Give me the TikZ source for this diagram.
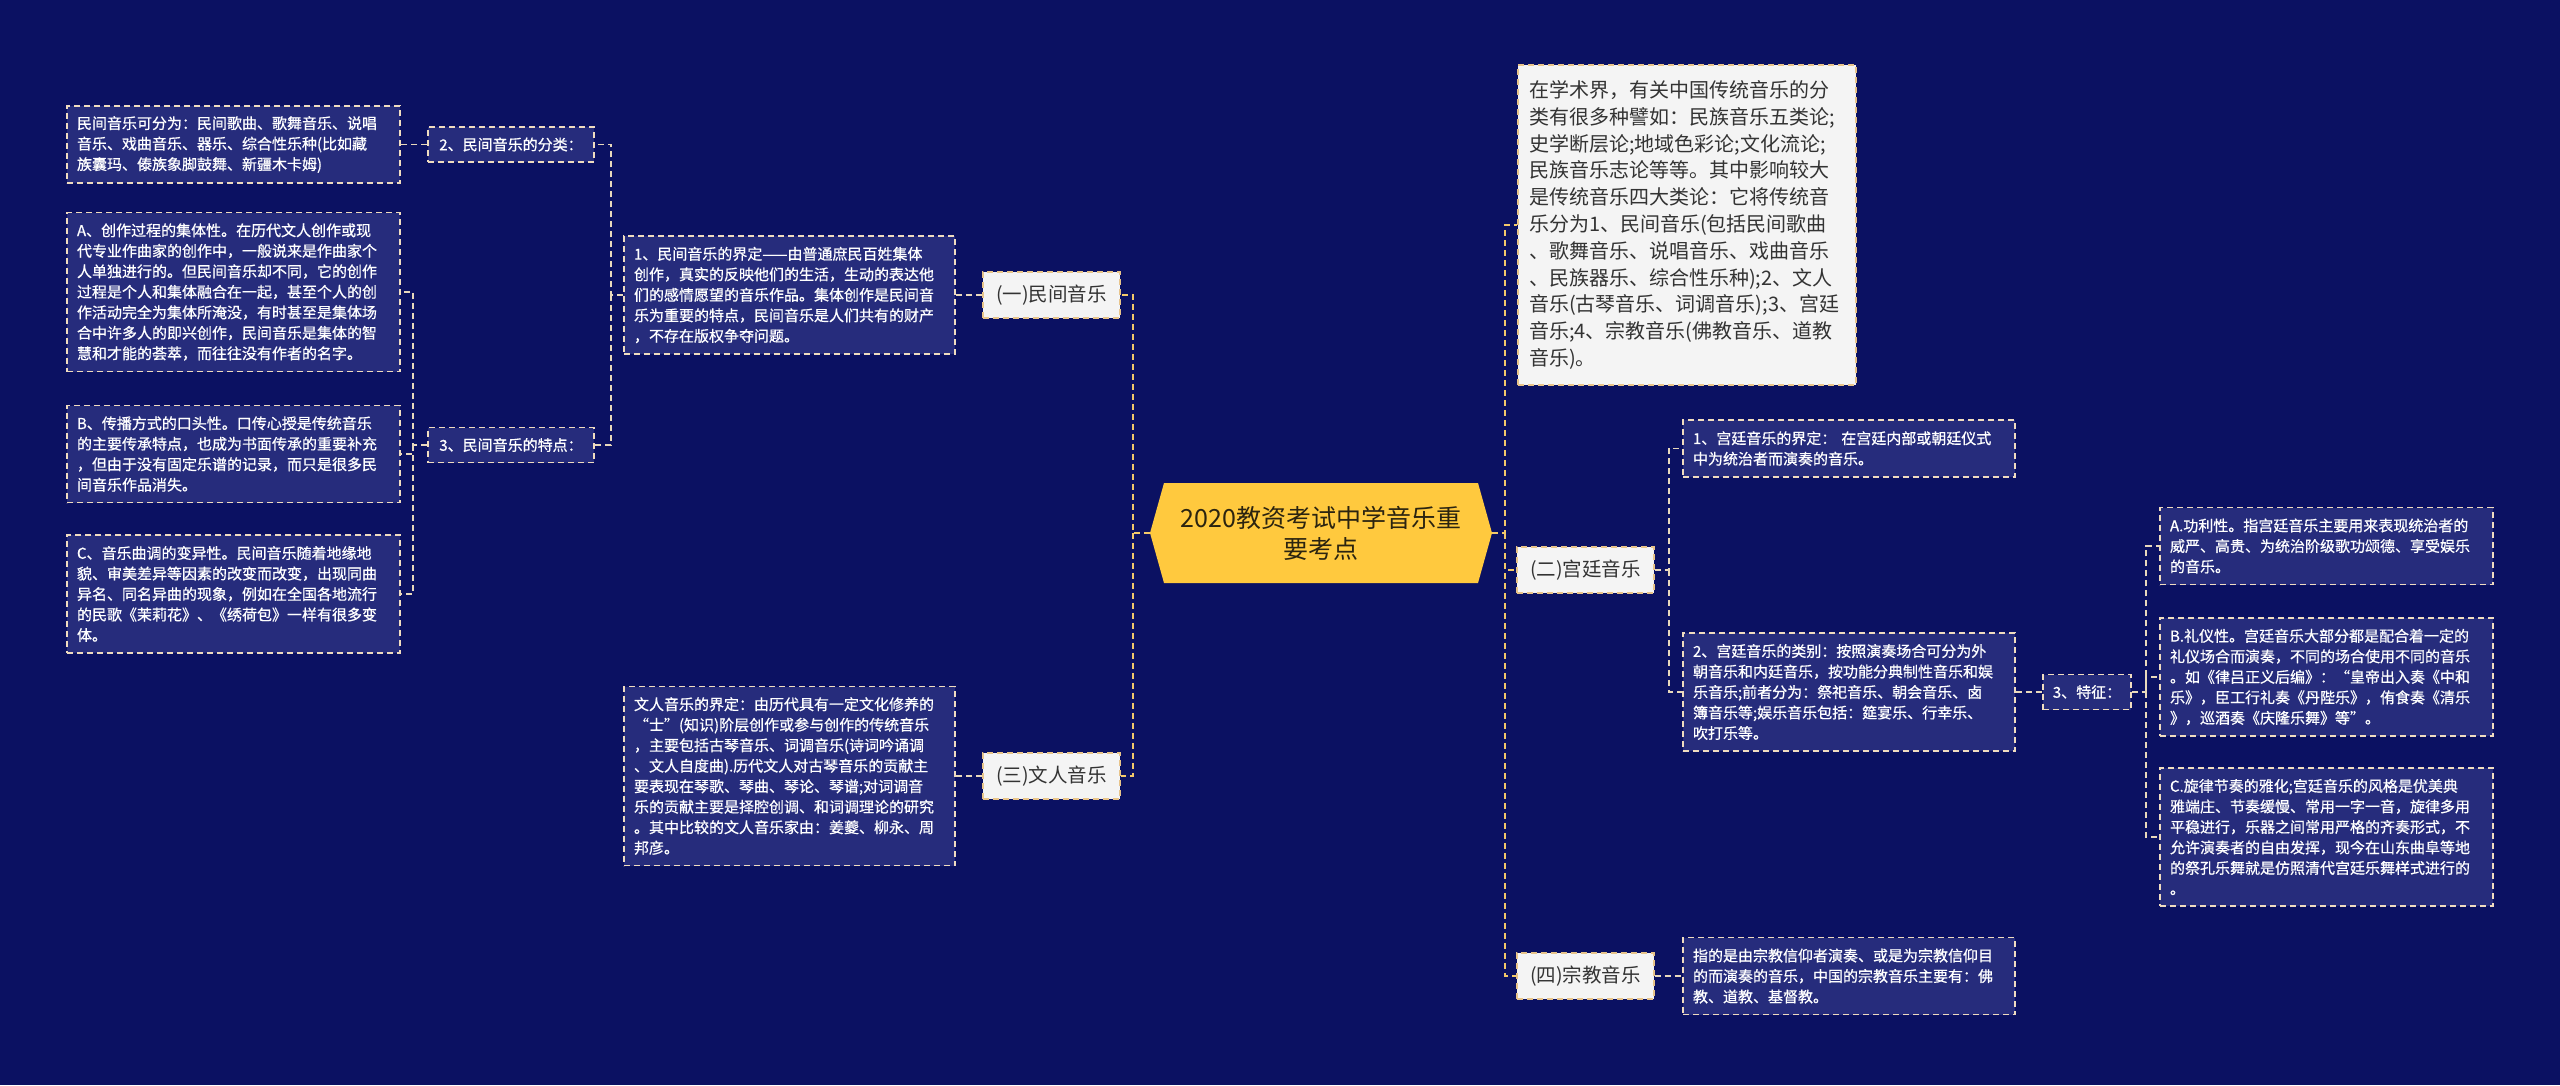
\documentclass[tikz,border=0pt]{standalone}
\usepackage{fontspec}
\newfontfamily\cjk{Noto Sans CJK SC}
\newfontfamily\cjkm{Noto Sans CJK SC}[FakeBold=0.7]
\definecolor{bg}{HTML}{0B1162}
\definecolor{boxfill}{HTML}{262C7C}
\definecolor{boxline}{HTML}{F0DCC0}
\definecolor{wirec}{HTML}{E8D8BC}
\definecolor{mainwirec}{HTML}{F3C96A}
\definecolor{lvlfill}{HTML}{F4F4F4}
\definecolor{lvlline}{HTML}{E8C48A}
\definecolor{rootfill}{HTML}{FFC93E}
\definecolor{roottext}{HTML}{2B2410}
\definecolor{darktext}{HTML}{333333}
\begin{document}
\begin{tikzpicture}[x=1pt,y=-1pt,
  dashy/.style={dash pattern=on 6pt off 4pt,line width=1.3pt},
  tbox/.style={draw=boxline,dashy,fill=boxfill,text=white,align=left,
     font=\cjkm\fontsize{15}{20.5}\selectfont,inner xsep=10pt,inner ysep=0pt,text width=313pt},
  sbox/.style={draw=boxline,dashy,fill=boxfill,text=white,font=\cjkm\fontsize{15}{18}\selectfont,
     minimum height=35pt,inner xsep=0pt},
  lvl/.style={draw=lvlline,dashy,fill=lvlfill,text=darktext,font=\cjk\fontsize{19.5}{23}\selectfont,
     minimum width=137pt,minimum height=46pt,inner sep=0pt},
  note/.style={draw=lvlline,dashy,fill=lvlfill,text=darktext,align=left,
     font=\cjk\fontsize{20}{26.8}\selectfont,inner xsep=11pt,inner ysep=0pt,text width=316pt,minimum height=320pt},
  wire/.style={draw=wirec,dashy},
  mwire/.style={draw=mainwirec,dashy},
]
\fill[bg] (0,0) rectangle (2560,1085);
\useasboundingbox (0,0) rectangle (2560,1085);

\coordinate (busL) at (1133,0);
\coordinate (busR) at (1505,0);
\coordinate (busMJ) at (611,0);
\coordinate (busTD) at (413,0);
\coordinate (busGT) at (1669,0);
\coordinate (busTZ) at (2146,0);

% root
\node[minimum width=342pt,minimum height=100pt,inner sep=0pt,align=center,text=roottext,
  font=\cjk\fontsize{25}{31}\selectfont,
  path picture={\fill[rootfill] (path picture bounding box.west)
    -- ([xshift=14pt]path picture bounding box.north west)
    -- ([xshift=-14pt]path picture bounding box.north east)
    -- (path picture bounding box.east)
    -- ([xshift=-14pt]path picture bounding box.south east)
    -- ([xshift=14pt]path picture bounding box.south west) -- cycle;}]
  (root) at (1321,533) {2020教资考试中学音乐重\\要考点};

% level 1
\node[lvl] (yi) at (1051.5,295) {(一)民间音乐};
\node[lvl] (san) at (1051.5,776) {(三)文人音乐};
\node[lvl] (er) at (1585.5,570) {(二)宫廷音乐};
\node[lvl] (si) at (1585.5,976) {(四)宗教音乐};

% note
\node[note] (white) at (1687,225) {在学术界，有关中国传统音乐的分\\类有很多种譬如：民族音乐五类论;\\史学断层论;地域色彩论;文化流论;\\民族音乐志论等等。其中影响较大\\是传统音乐四大类论：它将传统音\\乐分为1、民间音乐(包括民间歌曲\\、歌舞音乐、说唱音乐、戏曲音乐\\、民族器乐、综合性乐种);2、文人\\音乐(古琴音乐、词调音乐);3、宫廷\\音乐;4、宗教音乐(佛教音乐、道教\\音乐)。};

% left branch
\node[tbox,text width=311pt,minimum height=118pt] (mj1) at (789.5,295) {1、民间音乐的界定——由普通庶民百姓集体\\创作，真实的反映他们的生活，生动的表达他\\们的感情愿望的音乐作品。集体创作是民间音\\乐为重要的特点，民间音乐是人们共有的财产\\，不存在版权争夺问题。};
\node[sbox,minimum width=166pt] (fl) at (511,144.5) {2、民间音乐的分类：};
\node[sbox,minimum width=166pt] (td) at (511,445) {3、民间音乐的特点：};
\node[tbox,minimum height=77pt] (fl1) at (233.5,144.5) {民间音乐可分为：民间歌曲、歌舞音乐、说唱\\音乐、戏曲音乐、器乐、综合性乐种(比如藏\\族囊玛、傣族象脚鼓舞、新疆木卡姆)};
\node[tbox,minimum height=159pt] (tdA) at (233.5,292) {A、创作过程的集体性。在历代文人创作或现\\代专业作曲家的创作中，一般说来是作曲家个\\人单独进行的。但民间音乐却不同，它的创作\\过程是个人和集体融合在一起，甚至个人的创\\作活动完全为集体所淹没，有时甚至是集体场\\合中许多人的即兴创作，民间音乐是集体的智\\慧和才能的荟萃，而往往没有作者的名字。};
\node[tbox,minimum height=97pt] (tdB) at (233.5,454) {B、传播方式的口头性。口传心授是传统音乐\\的主要传承特点，也成为书面传承的重要补充\\，但由于没有固定乐谱的记录，而只是很多民\\间音乐作品消失。};
\node[tbox,minimum height=118pt] (tdC) at (233.5,594) {C、音乐曲调的变异性。民间音乐随着地缘地\\貌、审美差异等因素的改变而改变，出现同曲\\异名、同名异曲的现象，例如在全国各地流行\\的民歌《茉莉花》、《绣荷包》一样有很多变\\体。};
\node[tbox,text width=311pt,minimum height=179pt] (wr) at (789.5,776) {文人音乐的界定：由历代具有一定文化修养的\\“士”(知识)阶层创作或参与创作的传统音乐\\，主要包括古琴音乐、词调音乐(诗词吟诵调\\、文人自度曲).历代文人对古琴音乐的贡献主\\要表现在琴歌、琴曲、琴论、琴谱;对词调音\\乐的贡献主要是择腔创调、和词调理论的研究\\。其中比较的文人音乐家由：姜夔、柳永、周\\邦彦。};

% right branch
\node[tbox,text width=312pt,minimum height=57pt] (gt1) at (1849,448.5) {1、宫廷音乐的界定： 在宫廷内部或朝廷仪式\\中为统治者而演奏的音乐。};
\node[tbox,text width=312pt,minimum height=118pt] (gt2) at (1849,692) {2、宫廷音乐的类别：按照演奏场合可分为外\\朝音乐和内廷音乐，按功能分典制性音乐和娱\\乐音乐;前者分为：祭祀音乐、朝会音乐、卤\\簿音乐等;娱乐音乐包括：筵宴乐、行幸乐、\\吹打乐等。};
\node[sbox,minimum width=88pt] (tz) at (2087,692) {3、特征：};
\node[tbox,minimum height=77pt] (tzA) at (2326.5,546) {A.功利性。指宫廷音乐主要用来表现统治者的\\威严、高贵、为统治阶级歌功颂德、享受娱乐\\的音乐。};
\node[tbox,minimum height=118pt] (tzB) at (2326.5,677) {B.礼仪性。宫廷音乐大部分都是配合着一定的\\礼仪场合而演奏，不同的场合使用不同的音乐\\。如《律吕正义后编》：“皇帝出入奏《中和\\乐》，臣工行礼奏《丹陛乐》，侑食奏《清乐\\》，巡酒奏《庆隆乐舞》等”。};
\node[tbox,minimum height=138pt] (tzC) at (2326.5,837) {C.旋律节奏的雅化;宫廷音乐的风格是优美典\\雅端庄、节奏缓慢、常用一字一音，旋律多用\\平稳进行，乐器之间常用严格的齐奏形式，不\\允许演奏者的自由发挥，现今在山东曲阜等地\\的祭孔乐舞就是仿照清代宫廷乐舞样式进行的\\。};
\node[tbox,text width=312pt,minimum height=77pt] (zj) at (1849,976) {指的是由宗教信仰者演奏、或是为宗教信仰目\\的而演奏的音乐，中国的宗教音乐主要有：佛\\教、道教、基督教。};

% main connectors
\draw[mwire] (root.west) -- (root.west -| busL) |- (yi.east);
\draw[mwire] (root.west -| busL) |- (san.east);
\draw[mwire] (root.east) -- (root.east -| busR) |- (white.west);
\draw[mwire] (root.east -| busR) |- (er.west);
\draw[mwire] (root.east -| busR) |- (si.west);

% left sub connectors
\draw[wire] (yi.west) -- (mj1.east);
\draw[wire] (mj1.west) -- (mj1.west -| busMJ) |- (fl.east);
\draw[wire] (mj1.west -| busMJ) |- (td.east);
\draw[wire] (fl.west) -- (fl1.east);
\draw[wire] (td.west) -- (td.west -| busTD) |- (tdA.east);
\draw[wire] (td.west -| busTD) |- (tdB.east);
\draw[wire] (td.west -| busTD) |- (tdC.east);
\draw[wire] (san.west) -- (wr.east);

% right sub connectors
\draw[wire] (er.east) -- (er.east -| busGT) |- (gt1.west);
\draw[wire] (er.east -| busGT) |- (gt2.west);
\draw[wire] (gt2.east) -- (tz.west);
\draw[wire] (tz.east) -- (tz.east -| busTZ) |- (tzA.west);
\draw[wire] (tz.east -| busTZ) |- (tzB.west);
\draw[wire] (tz.east -| busTZ) |- (tzC.west);
\draw[wire] (si.east) -- (zj.west);
\end{tikzpicture}
\end{document}
